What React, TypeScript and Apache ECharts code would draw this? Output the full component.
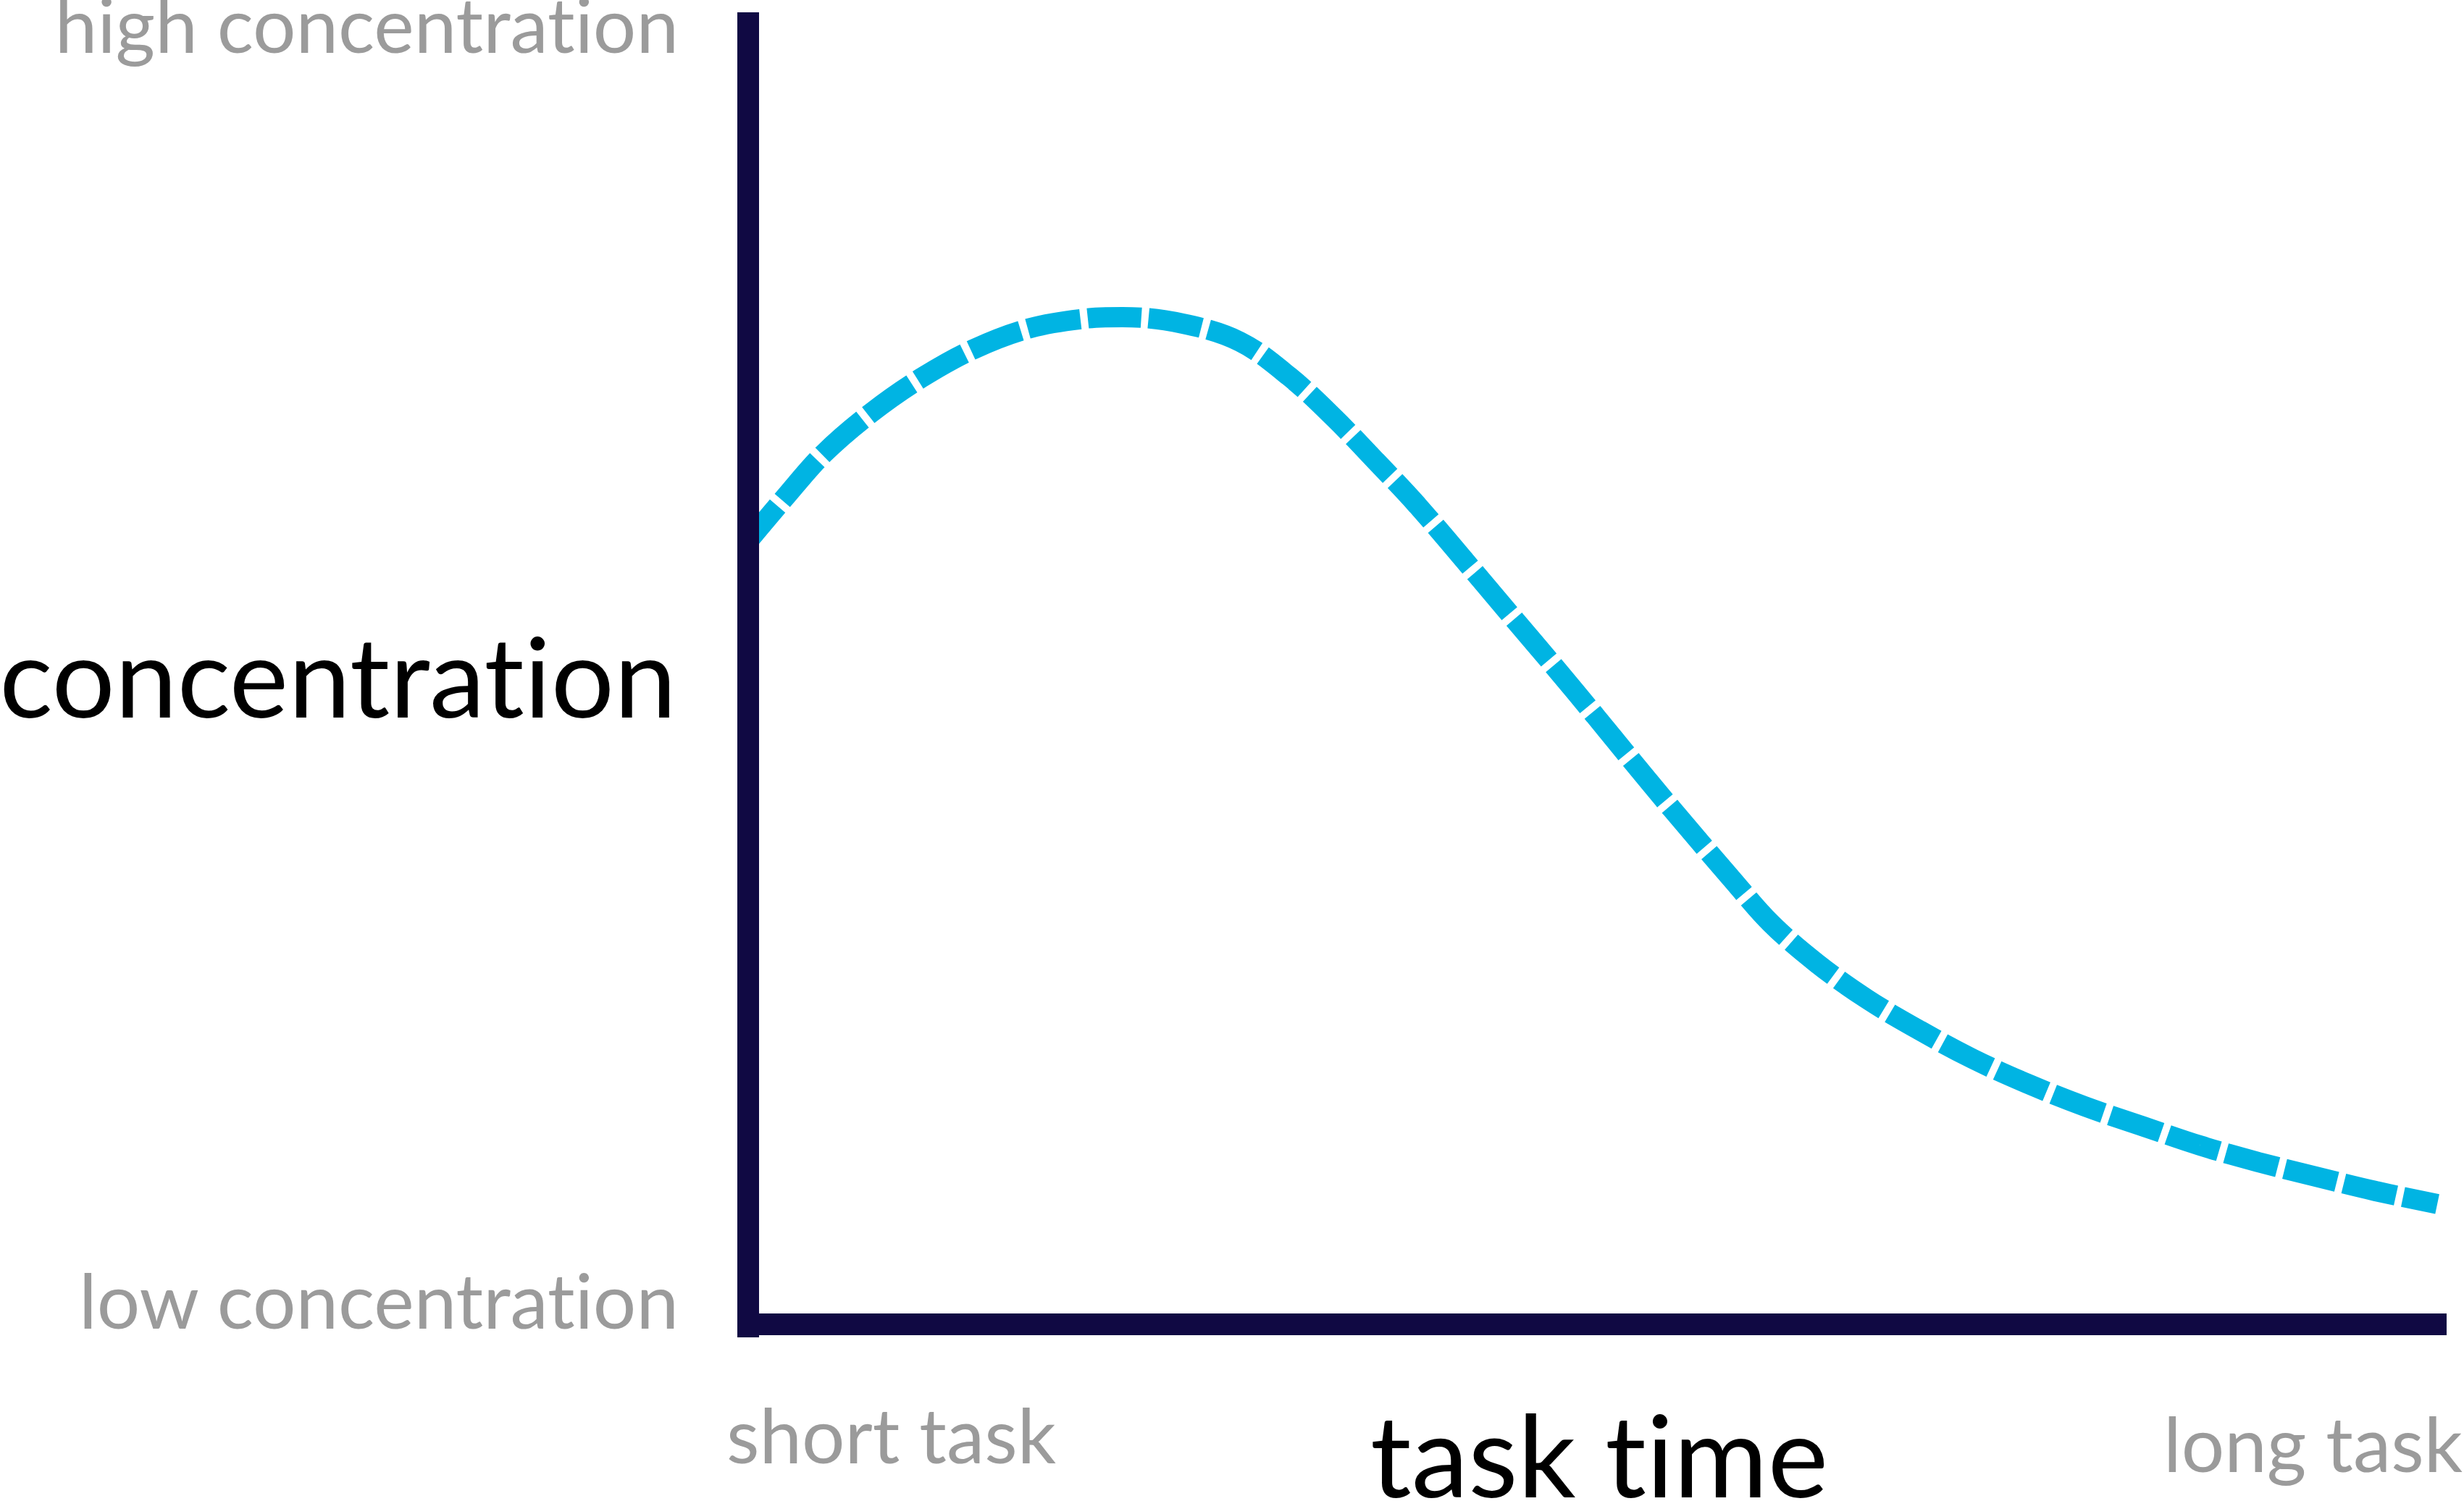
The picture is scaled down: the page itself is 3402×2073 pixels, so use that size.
import React, { useEffect, useRef } from "react";
import * as echarts from "echarts";

// task time (0 = short task, 100 = long task)
const taskTime = [
  0, 2.13, 4.43, 7.25, 10.19, 13.3, 16.63, 19.91, 22.05, 25.59, 28.96, 31.86,
  34.5, 36.97, 39.4, 42.94, 45.2, 47.55, 49.85, 52.11, 54.37, 57.87,
  60.21, 62.9, 65.88, 68.96, 72.07, 75.35, 78.68, 82.05, 85.46, 88.91, 92.28,
  95.82, 99.45,
];
// concentration (0 = low, 100 = high)
const concentration = [
  59.7, 62.97, 66.34, 69.48, 72.13, 74.34, 75.94, 76.66, 76.77, 76.27, 74.89,
  72.24, 69.09, 65.78, 62.42, 57.06, 53.59, 50.0, 46.41, 42.83, 39.3,
  34.0, 30.57, 27.54, 24.78, 22.41, 20.25, 18.32, 16.61, 15.12, 13.63, 12.36,
  11.26, 10.15, 9.16,
];

const yAxisTitle = "concentration";
const xAxisTitle = "task time";
const yHighLabel = "high concentration";
const yLowLabel = "low concentration";
const xShortLabel = "short task";
const xLongLabel = "long task";

const AXIS_COLOR = "#100943";
const LINE_COLOR = "#00B4E3";
const GRAY = "#9B9B9B";
const FONT = "Lato, 'Noto Sans', sans-serif";

export default function App() {
  const ref = useRef<HTMLDivElement>(null);

  useEffect(() => {
    if (!ref.current) return;
    const chart = echarts.init(ref.current, undefined, { renderer: "svg" });
    const data = taskTime.map((t, i) => [t, concentration[i]]);
    const small = 105;
    const text = (
      content: string,
      x: number,
      baseline: number,
      size: number,
      color: string,
      align: string
    ) => ({
      type: "text",
      x,
      y: baseline - 0.387 * size,
      style: {
        text: content,
        fontFamily: FONT,
        fontSize: size,
        fill: color,
        align,
        verticalAlign: "middle",
      },
    });
    chart.setOption({
      animation: false,
      backgroundColor: "#ffffff",
      grid: { left: 1033, right: 24, top: 17, bottom: 226 },
      xAxis: {
        type: "value",
        min: 0,
        max: 100,
        axisLine: {
          show: true,
          onZero: true,
          lineStyle: { color: AXIS_COLOR, width: 30, cap: "butt" },
        },
        axisTick: { show: false },
        axisLabel: { show: false },
        splitLine: { show: false },
        z: 3,
      },
      yAxis: {
        type: "value",
        min: -1,
        max: 100,
        axisLine: {
          show: true,
          onZero: false,
          lineStyle: { color: AXIS_COLOR, width: 30, cap: "butt" },
        },
        axisTick: { show: false },
        axisLabel: { show: false },
        splitLine: { show: false },
        z: 4,
      },
      series: [
        {
          type: "line",
          data,
          smooth: 0.35,
          showSymbol: false,
          z: 1,
          lineStyle: {
            color: LINE_COLOR,
            width: 28,
            type: [74, 10],
            dashOffset: 11,
            cap: "butt",
          },
        },
      ],
      graphic: [
        text(yHighLabel, 937, 73, small, GRAY, "right"),
        text(yAxisTitle, 934, 991, 154, "#000000", "right"),
        text(yLowLabel, 937, 1835, small, GRAY, "right"),
        text(xShortLabel, 1003, 2021, small, GRAY, "left"),
        text(xAxisTitle, 1892, 2068, 158, "#000000", "left"),
        text(xLongLabel, 3400, 2033, small, GRAY, "right"),
      ],
    });
    return () => chart.dispose();
  }, []);

  return (
    <>
      <style>{`svg text, svg tspan { font-variant-ligatures: none !important; font-feature-settings: "liga" 0, "clig" 0, "dlig" 0 !important; }`}</style>
      <div
        ref={ref}
        style={{
          position: "fixed",
          left: 0,
          top: 0,
          width: 3402,
          height: 2073,
          background: "#ffffff",
        }}
      />
    </>
  );
}
